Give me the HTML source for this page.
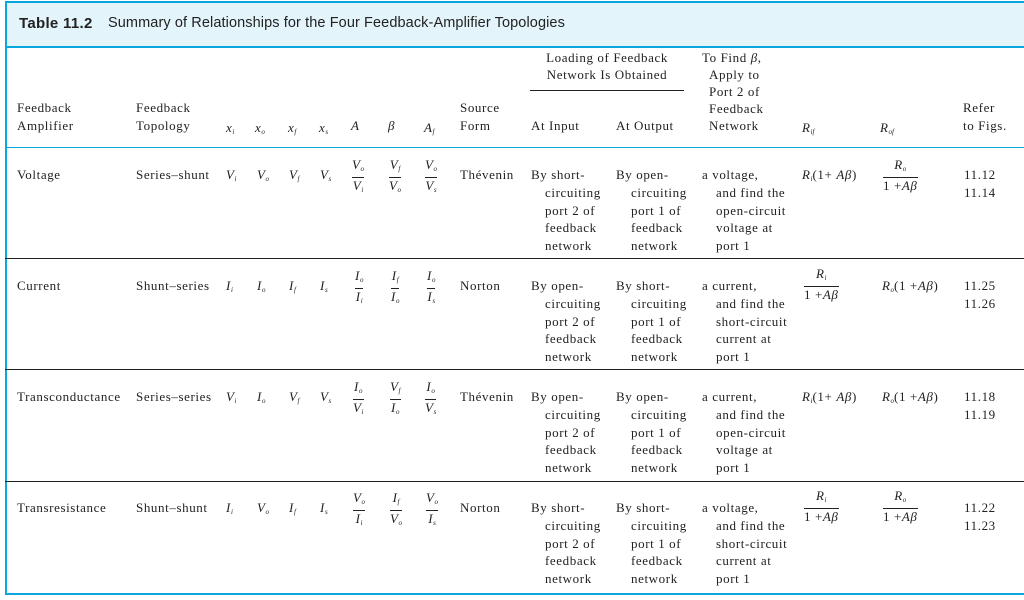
<!DOCTYPE html>
<html><head><meta charset="utf-8"><style>
body{margin:0;width:1024px;height:600px;background:#fff;position:relative;overflow:hidden;font-family:"Liberation Serif",serif;font-size:13px;letter-spacing:0.6px;color:#222}
.a{position:absolute;white-space:nowrap;line-height:14px}
i{font-style:italic}
sub{font-size:7px;vertical-align:-2px;font-style:italic;letter-spacing:0}
.fr{position:absolute;display:flex;flex-direction:column;align-items:center;line-height:14px}
.fr .l{border-top:1px solid #222;align-self:stretch;margin:1px 0}
.row{position:absolute;left:0;width:1024px;height:111px}
.c{text-align:center}
</style></head><body>
<div style="position:absolute;left:5px;top:1px;width:1019px;height:2px;background:#0aa6de"></div>
<div style="position:absolute;left:5px;top:3px;width:1019px;height:43px;background:#e4f4fb"></div>
<div style="position:absolute;left:5px;top:46px;width:1019px;height:2px;background:#0aa6de"></div>
<div style="position:absolute;left:5px;top:1px;width:2px;height:594px;background:#0aa6de"></div>
<div style="position:absolute;left:5px;top:147px;width:1019px;height:1px;background:#0aa6de"></div>
<div style="position:absolute;left:5px;top:258px;width:1019px;height:1px;background:#222"></div>
<div style="position:absolute;left:5px;top:369px;width:1019px;height:1px;background:#222"></div>
<div style="position:absolute;left:5px;top:481px;width:1019px;height:1px;background:#222"></div>
<div style="position:absolute;left:5px;top:593px;width:1019px;height:2px;background:#0aa6de"></div>
<div class="a" style="left:19px;top:15px;font-family:'Liberation Sans',sans-serif;font-size:15px;line-height:17px;letter-spacing:0.3px"><b>Table 11.2</b></div>
<div class="a" style="left:108px;top:15px;font-family:'Liberation Sans',sans-serif;font-size:14.5px;line-height:17px;letter-spacing:0.1px">Summary of Relationships for the Four Feedback-Amplifier Topologies</div>

<!-- header -->
<div class="a" style="left:17px;top:101px">Feedback</div>
<div class="a" style="left:17px;top:119px">Amplifier</div>
<div class="a" style="left:136px;top:101px">Feedback</div>
<div class="a" style="left:136px;top:119px">Topology</div>
<div class="a" style="left:226px;top:121px"><i>x</i><sub>i</sub></div>
<div class="a" style="left:255px;top:121px"><i>x</i><sub>o</sub></div>
<div class="a" style="left:288px;top:121px"><i>x</i><sub>f</sub></div>
<div class="a" style="left:319px;top:121px"><i>x</i><sub>s</sub></div>
<div class="a" style="left:351px;top:119px"><i>A</i></div>
<div class="a" style="left:388px;top:119px"><i>β</i></div>
<div class="a" style="left:424px;top:121px"><i>A</i><sub>f</sub></div>
<div class="a" style="left:460px;top:101px">Source</div>
<div class="a" style="left:460px;top:119px">Form</div>
<div class="a c" style="left:530px;width:154px;top:51px">Loading of Feedback</div>
<div class="a c" style="left:530px;width:154px;top:68px">Network Is Obtained</div>
<div style="position:absolute;left:530px;top:90px;width:154px;height:1px;background:#222"></div>
<div class="a" style="left:531px;top:119px">At Input</div>
<div class="a" style="left:616px;top:119px">At Output</div>
<div class="a" style="left:702px;top:51px">To Find <i>β</i>,</div>
<div class="a" style="left:709px;top:68px">Apply to</div>
<div class="a" style="left:709px;top:85px">Port 2 of</div>
<div class="a" style="left:709px;top:102px">Feedback</div>
<div class="a" style="left:709px;top:119px">Network</div>
<div class="a" style="left:802px;top:121px"><i>R</i><sub>if</sub></div>
<div class="a" style="left:880px;top:121px"><i>R</i><sub>of</sub></div>
<div class="a" style="left:963px;top:101px">Refer</div>
<div class="a" style="left:963px;top:119px">to Figs.</div>

<!-- row 1 -->
<div class="row" style="top:148px">
<div class="a" style="left:17px;top:20px">Voltage</div>
<div class="a" style="left:136px;top:20px">Series–shunt</div>
<div class="a" style="left:226px;top:20px"><i>V</i><sub>i</sub></div>
<div class="a" style="left:257px;top:20px"><i>V</i><sub>o</sub></div>
<div class="a" style="left:289px;top:20px"><i>V</i><sub>f</sub></div>
<div class="a" style="left:320px;top:20px"><i>V</i><sub>s</sub></div>
<div class="fr" style="left:352px;top:10px"><span><i>V</i><sub>o</sub></span><span class="l"></span><span><i>V</i><sub>i</sub></span></div>
<div class="fr" style="left:389px;top:10px"><span><i>V</i><sub>f</sub></span><span class="l"></span><span><i>V</i><sub>o</sub></span></div>
<div class="fr" style="left:425px;top:10px"><span><i>V</i><sub>o</sub></span><span class="l"></span><span><i>V</i><sub>s</sub></span></div>
<div class="a" style="left:460px;top:20px">Thévenin</div>
<div class="a" style="left:531px;top:20px">By short-</div><div class="a" style="left:545px;top:38px">circuiting</div><div class="a" style="left:545px;top:56px">port 2 of</div><div class="a" style="left:545px;top:73px">feedback</div><div class="a" style="left:545px;top:91px">network</div>
<div class="a" style="left:616px;top:20px">By open-</div><div class="a" style="left:631px;top:38px">circuiting</div><div class="a" style="left:631px;top:56px">port 1 of</div><div class="a" style="left:631px;top:73px">feedback</div><div class="a" style="left:631px;top:91px">network</div>
<div class="a" style="left:702px;top:20px">a voltage,</div><div class="a" style="left:716px;top:38px">and find the</div><div class="a" style="left:716px;top:56px">open-circuit</div><div class="a" style="left:716px;top:73px">voltage at</div><div class="a" style="left:716px;top:91px">port 1</div>
<div class="a" style="left:802px;top:20px"><i>R</i><sub>i</sub>(1+ <i>Aβ</i>)</div>
<div class="fr" style="left:883px;top:10px"><span><i>R</i><sub>o</sub></span><span class="l"></span><span>1 +<i>Aβ</i></span></div>
<div class="a" style="left:964px;top:20px">11.12</div><div class="a" style="left:964px;top:38px">11.14</div>
</div>

<!-- row 2 -->
<div class="row" style="top:259px">
<div class="a" style="left:17px;top:20px">Current</div>
<div class="a" style="left:136px;top:20px">Shunt–series</div>
<div class="a" style="left:226px;top:20px"><i>I</i><sub>i</sub></div>
<div class="a" style="left:257px;top:20px"><i>I</i><sub>o</sub></div>
<div class="a" style="left:289px;top:20px"><i>I</i><sub>f</sub></div>
<div class="a" style="left:320px;top:20px"><i>I</i><sub>s</sub></div>
<div class="fr" style="left:355px;top:10px"><span><i>I</i><sub>o</sub></span><span class="l"></span><span><i>I</i><sub>i</sub></span></div>
<div class="fr" style="left:391px;top:10px"><span><i>I</i><sub>f</sub></span><span class="l"></span><span><i>I</i><sub>o</sub></span></div>
<div class="fr" style="left:427px;top:10px"><span><i>I</i><sub>o</sub></span><span class="l"></span><span><i>I</i><sub>s</sub></span></div>
<div class="a" style="left:460px;top:20px">Norton</div>
<div class="a" style="left:531px;top:20px">By open-</div><div class="a" style="left:545px;top:38px">circuiting</div><div class="a" style="left:545px;top:56px">port 2 of</div><div class="a" style="left:545px;top:73px">feedback</div><div class="a" style="left:545px;top:91px">network</div>
<div class="a" style="left:616px;top:20px">By short-</div><div class="a" style="left:631px;top:38px">circuiting</div><div class="a" style="left:631px;top:56px">port 1 of</div><div class="a" style="left:631px;top:73px">feedback</div><div class="a" style="left:631px;top:91px">network</div>
<div class="a" style="left:702px;top:20px">a current,</div><div class="a" style="left:716px;top:38px">and find the</div><div class="a" style="left:716px;top:56px">short-circuit</div><div class="a" style="left:716px;top:73px">current at</div><div class="a" style="left:716px;top:91px">port 1</div>
<div class="fr" style="left:804px;top:8px"><span><i>R</i><sub>i</sub></span><span class="l"></span><span>1 +<i>Aβ</i></span></div>
<div class="a" style="left:882px;top:20px"><i>R</i><sub>o</sub>(1 +<i>Aβ</i>)</div>
<div class="a" style="left:964px;top:20px">11.25</div><div class="a" style="left:964px;top:38px">11.26</div>
</div>

<!-- row 3 -->
<div class="row" style="top:370px">
<div class="a" style="left:17px;top:20px">Transconductance</div>
<div class="a" style="left:136px;top:20px">Series–series</div>
<div class="a" style="left:226px;top:20px"><i>V</i><sub>i</sub></div>
<div class="a" style="left:257px;top:20px"><i>I</i><sub>o</sub></div>
<div class="a" style="left:289px;top:20px"><i>V</i><sub>f</sub></div>
<div class="a" style="left:320px;top:20px"><i>V</i><sub>s</sub></div>
<div class="fr" style="left:353px;top:10px"><span><i>I</i><sub>o</sub></span><span class="l"></span><span><i>V</i><sub>i</sub></span></div>
<div class="fr" style="left:390px;top:10px"><span><i>V</i><sub>f</sub></span><span class="l"></span><span><i>I</i><sub>o</sub></span></div>
<div class="fr" style="left:425px;top:10px"><span><i>I</i><sub>o</sub></span><span class="l"></span><span><i>V</i><sub>s</sub></span></div>
<div class="a" style="left:460px;top:20px">Thévenin</div>
<div class="a" style="left:531px;top:20px">By open-</div><div class="a" style="left:545px;top:38px">circuiting</div><div class="a" style="left:545px;top:56px">port 2 of</div><div class="a" style="left:545px;top:73px">feedback</div><div class="a" style="left:545px;top:91px">network</div>
<div class="a" style="left:616px;top:20px">By open-</div><div class="a" style="left:631px;top:38px">circuiting</div><div class="a" style="left:631px;top:56px">port 1 of</div><div class="a" style="left:631px;top:73px">feedback</div><div class="a" style="left:631px;top:91px">network</div>
<div class="a" style="left:702px;top:20px">a current,</div><div class="a" style="left:716px;top:38px">and find the</div><div class="a" style="left:716px;top:56px">open-circuit</div><div class="a" style="left:716px;top:73px">voltage at</div><div class="a" style="left:716px;top:91px">port 1</div>
<div class="a" style="left:802px;top:20px"><i>R</i><sub>i</sub>(1+ <i>Aβ</i>)</div>
<div class="a" style="left:882px;top:20px"><i>R</i><sub>o</sub>(1 +<i>Aβ</i>)</div>
<div class="a" style="left:964px;top:20px">11.18</div><div class="a" style="left:964px;top:38px">11.19</div>
</div>

<!-- row 4 -->
<div class="row" style="top:481px">
<div class="a" style="left:17px;top:20px">Transresistance</div>
<div class="a" style="left:136px;top:20px">Shunt–shunt</div>
<div class="a" style="left:226px;top:20px"><i>I</i><sub>i</sub></div>
<div class="a" style="left:257px;top:20px"><i>V</i><sub>o</sub></div>
<div class="a" style="left:289px;top:20px"><i>I</i><sub>f</sub></div>
<div class="a" style="left:320px;top:20px"><i>I</i><sub>s</sub></div>
<div class="fr" style="left:353px;top:10px"><span><i>V</i><sub>o</sub></span><span class="l"></span><span><i>I</i><sub>i</sub></span></div>
<div class="fr" style="left:390px;top:10px"><span><i>I</i><sub>f</sub></span><span class="l"></span><span><i>V</i><sub>o</sub></span></div>
<div class="fr" style="left:426px;top:10px"><span><i>V</i><sub>o</sub></span><span class="l"></span><span><i>I</i><sub>s</sub></span></div>
<div class="a" style="left:460px;top:20px">Norton</div>
<div class="a" style="left:531px;top:20px">By short-</div><div class="a" style="left:545px;top:38px">circuiting</div><div class="a" style="left:545px;top:56px">port 2 of</div><div class="a" style="left:545px;top:73px">feedback</div><div class="a" style="left:545px;top:91px">network</div>
<div class="a" style="left:616px;top:20px">By short-</div><div class="a" style="left:631px;top:38px">circuiting</div><div class="a" style="left:631px;top:56px">port 1 of</div><div class="a" style="left:631px;top:73px">feedback</div><div class="a" style="left:631px;top:91px">network</div>
<div class="a" style="left:702px;top:20px">a voltage,</div><div class="a" style="left:716px;top:38px">and find the</div><div class="a" style="left:716px;top:56px">short-circuit</div><div class="a" style="left:716px;top:73px">current at</div><div class="a" style="left:716px;top:91px">port 1</div>
<div class="fr" style="left:804px;top:8px"><span><i>R</i><sub>i</sub></span><span class="l"></span><span>1 +<i>Aβ</i></span></div>
<div class="fr" style="left:883px;top:8px"><span><i>R</i><sub>o</sub></span><span class="l"></span><span>1 +<i>Aβ</i></span></div>
<div class="a" style="left:964px;top:20px">11.22</div><div class="a" style="left:964px;top:38px">11.23</div>
</div>
</body></html>
